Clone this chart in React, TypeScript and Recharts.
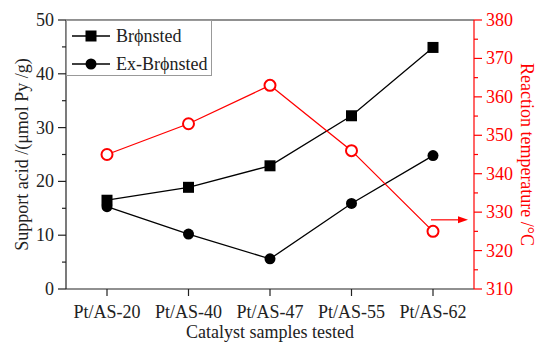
import React from 'react';
import { LineChart, Line, XAxis, YAxis, Legend, ReferenceLine } from 'recharts';

const samples = ['Pt/AS-20', 'Pt/AS-40', 'Pt/AS-47', 'Pt/AS-55', 'Pt/AS-62'];
const bronsted = [16.5, 18.9, 22.9, 32.2, 44.9];
const exBronsted = [15.3, 10.2, 5.6, 15.9, 24.8];
const reactionTemp = [345, 353, 363, 346, 325];

const acidTicks = [0, 5, 10, 15, 20, 25, 30, 35, 40, 45, 50];
const tempTicks = [310, 315, 320, 325, 330, 335, 340, 345, 350, 355, 360, 365, 370, 375, 380];
const arrowTemp = 328;

const data = samples.map((name, i) => ({
  name,
  bronsted: bronsted[i],
  exBronsted: exBronsted[i],
  temp: reactionTemp[i],
}));

const FONT = '"Liberation Serif", "Times New Roman", serif';
const RED = '#ff0000';
const AXIS = '#222';

const LeftTick = ({ x, y, payload }: any) => {
  const major = payload.value % 10 === 0;
  return (
    <g>
      <line x1={x} x2={x - (major ? 8 : 4)} y1={y} y2={y} stroke={AXIS} strokeWidth={1.2} />
      {major && (
        <text x={x - 12} y={y} textAnchor="end" dominantBaseline="central" fontFamily={FONT} fontSize={18} fill="#222">
          {payload.value}
        </text>
      )}
    </g>
  );
};

const RightTick = ({ x, y, payload }: any) => {
  const major = payload.value % 10 === 0;
  return (
    <g>
      <line x1={x} x2={x + (major ? 8 : 4)} y1={y} y2={y} stroke={RED} strokeWidth={1.2} />
      {major && (
        <text x={x + 12} y={y} textAnchor="start" dominantBaseline="central" fontFamily={FONT} fontSize={18} fill={RED}>
          {payload.value}
        </text>
      )}
    </g>
  );
};

const BottomTick = ({ x, y, payload }: any) => (
  <g>
    <line x1={x} x2={x} y1={y} y2={y + 7} stroke={AXIS} strokeWidth={1.2} />
    <text x={x} y={y + 23} textAnchor="middle" dominantBaseline="central" fontFamily={FONT} fontSize={18} fill="#222">
      {payload.value}
    </text>
  </g>
);

const SquareDot = ({ cx, cy }: any) => <rect x={cx - 5.5} y={cy - 5.5} width={11} height={11} fill="#000" />;
const CircleDot = ({ cx, cy }: any) => <circle cx={cx} cy={cy} r={5.5} fill="#000" />;
const OpenDot = ({ cx, cy }: any) => <circle cx={cx} cy={cy} r={5.5} fill="#fff" stroke={RED} strokeWidth={2} />;

const LegendBox = () => (
  <div style={{ width: 146, height: 56, border: '1px solid #999', background: '#fff', boxSizing: 'border-box' }}>
    <svg width={144} height={54}>
      <line x1={5} x2={43} y1={15} y2={15} stroke="#000" strokeWidth={1.3} />
      <rect x={18.5} y={9.5} width={11} height={11} fill="#000" />
      <text x={49} y={15} dominantBaseline="central" fontFamily={FONT} fontSize={18} fill="#222">Brϕnsted</text>
      <line x1={5} x2={43} y1={43} y2={43} stroke="#000" strokeWidth={1.3} />
      <circle cx={24} cy={43} r={5.5} fill="#000" />
      <text x={49} y={43} dominantBaseline="central" fontFamily={FONT} fontSize={18} fill="#222">Ex-Brϕnsted</text>
    </svg>
  </div>
);

// arrow pointing from the temperature series towards its axis
const ArrowShape = (props: any) => {
  const { x1, x2, y1 } = props;
  const end = Math.max(x1, x2);
  const tip = end - 6;
  return (
    <g>
      <line x1={end - 43} x2={tip - 8} y1={y1} y2={y1} stroke={RED} strokeWidth={1.2} />
      <polygon points={`${tip},${y1} ${tip - 10},${y1 - 3.5} ${tip - 10},${y1 + 3.5}`} fill={RED} />
    </g>
  );
};

export default function App() {
  return (
    <div style={{ position: 'absolute', left: 0, top: 0, width: 544, height: 342, background: '#fff' }}>
      <LineChart width={544} height={342} data={data} margin={{ top: 20, right: 0, bottom: 0, left: 0 }}>
        <XAxis
          dataKey="name"
          height={53}
          padding={{ left: 41, right: 41 }}
          tick={<BottomTick />}
          tickLine={false}
          tickSize={0}
          tickMargin={0}
          stroke={AXIS}
          strokeWidth={1.2}
          label={{
            content: ({ viewBox }: any) => (
              <text x={viewBox.x + viewBox.width / 2} y={332} textAnchor="middle" dominantBaseline="central" fontFamily={FONT} fontSize={18} fill="#222">
                Catalyst samples tested
              </text>
            ),
          }}
        />
        <YAxis
          yAxisId="left"
          width={66}
          domain={[0, 50]}
          ticks={acidTicks}
          interval={0}
          tick={<LeftTick />}
          tickLine={false}
          tickSize={0}
          tickMargin={0}
          stroke={AXIS}
          strokeWidth={1.2}
          label={{
            content: ({ viewBox }: any) => {
              const cy = viewBox.y + viewBox.height / 2;
              return (
                <text x={22} y={cy} transform={`rotate(-90 22 ${cy})`} textAnchor="middle" dominantBaseline="central" fontFamily={FONT} fontSize={18} fill="#222">
                  Support acid /(μmol Py /g)
                </text>
              );
            },
          }}
        />
        <YAxis
          yAxisId="right"
          orientation="right"
          width={70}
          domain={[310, 380]}
          ticks={tempTicks}
          interval={0}
          tick={<RightTick />}
          tickLine={false}
          tickSize={0}
          tickMargin={0}
          stroke={RED}
          strokeWidth={1.2}
          label={{
            content: ({ viewBox }: any) => {
              const cy = viewBox.y + viewBox.height / 2;
              return (
                <text x={527} y={cy} transform={`rotate(90 527 ${cy})`} textAnchor="middle" dominantBaseline="central" fontFamily={FONT} fontSize={18} fill={RED}>
                  Reaction temperature /°C
                </text>
              );
            },
          }}
        />
        <ReferenceLine yAxisId="left" y={50} stroke={AXIS} strokeWidth={1.2} />
        <ReferenceLine yAxisId="right" y={arrowTemp} shape={<ArrowShape />} />
        <Legend
          layout="vertical"
          align="center"
          verticalAlign="middle"
          content={<LegendBox />}
          wrapperStyle={{ left: 66, top: 20, width: 146, height: 56 }}
        />
        <Line yAxisId="left" dataKey="bronsted" stroke="#000" strokeWidth={1.3} dot={<SquareDot />} isAnimationActive={false} />
        <Line yAxisId="left" dataKey="exBronsted" stroke="#000" strokeWidth={1.3} dot={<CircleDot />} isAnimationActive={false} />
        <Line yAxisId="right" dataKey="temp" stroke={RED} strokeWidth={1.3} dot={<OpenDot />} isAnimationActive={false} />
      </LineChart>
    </div>
  );
}
